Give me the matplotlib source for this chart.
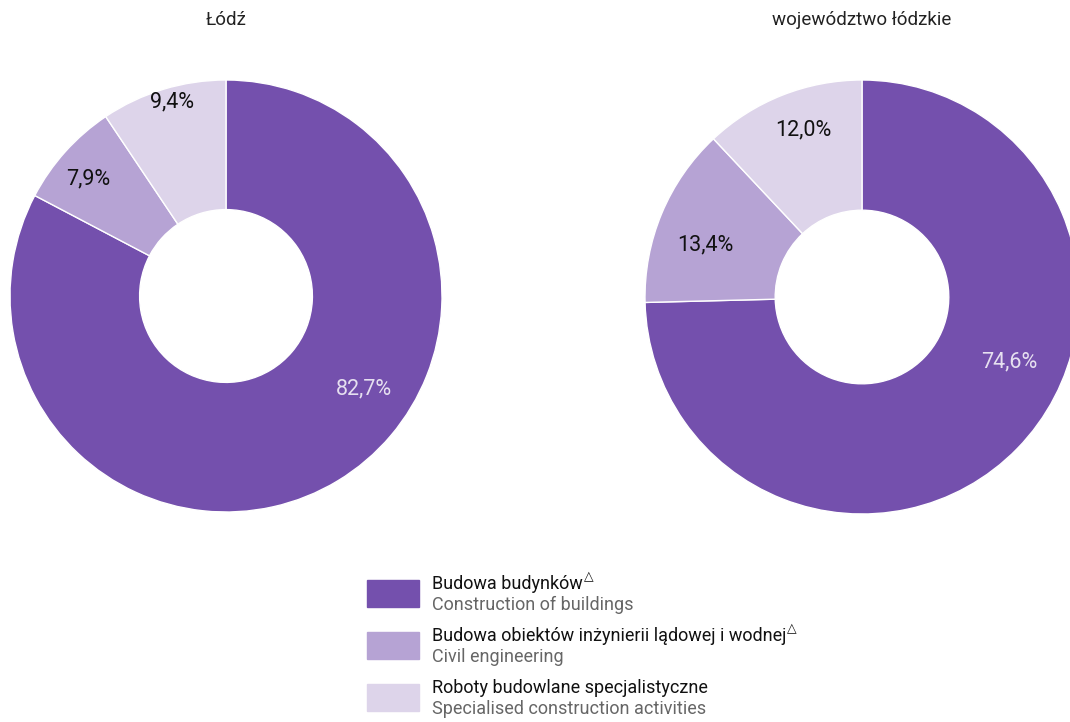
import matplotlib
matplotlib.use('Agg')
import matplotlib.pyplot as plt
from matplotlib import font_manager
from matplotlib.patches import Rectangle

# pick a narrow-ish font if available
names = {f.name for f in font_manager.fontManager.ttflist}
fam = 'DejaVu Sans'
for cand in ['Liberation Sans Narrow', 'Roboto', 'Open Sans']:
    if cand in names:
        fam = cand
        break
plt.rcParams['font.family'] = [fam, 'DejaVu Sans']

# data
titles = ['Łódź', 'województwo łódzkie']
lodz = [82.7, 7.9, 9.4]
region = [74.6, 13.4, 12.0]
lodz_labels = ['82,7%', '7,9%', '9,4%']
region_labels = ['74,6%', '13,4%', '12,0%']
pl_names = ['Budowa budynków', 'Budowa obiektów inżynierii lądowej i wodnej',
            'Roboty budowlane specjalistyczne']
en_names = ['Construction of buildings', 'Civil engineering',
            'Specialised construction activities']

colors = ['#7450ad', '#b6a3d4', '#ddd4ea']
label_colors = ['#e6e0f0', '#111111', '#111111']

# label positions (in radius units)
lodz_pos = [(0.64, -0.43), (-0.64, 0.54), (-0.25, 0.90)]
region_pos = [(0.68, -0.30), (-0.72, 0.24), (-0.27, 0.77)]

W, H = 1070, 722
fig = plt.figure(figsize=(W / 100, H / 100), dpi=100)


def donut(cx, cy, r, vals, labels, pos, title):
    ax = fig.add_axes([(cx - r) / W, (H - cy - r) / H, 2 * r / W, 2 * r / H])
    ax.pie(vals, colors=colors, startangle=90, counterclock=False,
           radius=1, wedgeprops=dict(width=0.6, edgecolor='white', linewidth=1))
    for lab, (x, y), c in zip(labels, pos, label_colors):
        ax.text(x, y, lab, ha='center', va='center', fontsize=15.5, color=c)
    ax.set_xlim(-1, 1)
    ax.set_ylim(-1, 1)
    ax.set_aspect('equal')
    ax.axis('off')
    fig.text(cx / W, 1 - 20 / H, title, ha='center', va='center', fontsize=13.5,
             color='#222222')


donut(226, 296, 216, lodz, lodz_labels, lodz_pos, titles[0])
donut(862, 297, 217, region, region_labels, region_pos, titles[1])

# legend
for i in range(3):
    top = 580 + i * 52
    fig.patches.append(Rectangle((367 / W, 1 - (top + 27) / H), 52 / W, 27 / H,
                                 transform=fig.transFigure, color=colors[i]))
    fig.text(432 / W, 1 - (top + 4) / H, pl_names[i], ha='left', va='center',
             fontsize=13, color='#111111')
    fig.text(432 / W, 1 - (top + 25) / H, en_names[i], ha='left', va='center',
             fontsize=13, color='#666666')

# superscript triangles after polish names
fig.canvas.draw()
r = fig.canvas.get_renderer()
for t in fig.texts:
    if t.get_text() in pl_names[:2]:
        bb = t.get_window_extent(r)
        fig.text(bb.x1 / W + 1 / W, bb.y1 / H - 2 / H, '△', ha='left', va='center',
                 fontsize=9, color='#111111', family='DejaVu Sans')

fig.savefig('out.png', dpi=100)
